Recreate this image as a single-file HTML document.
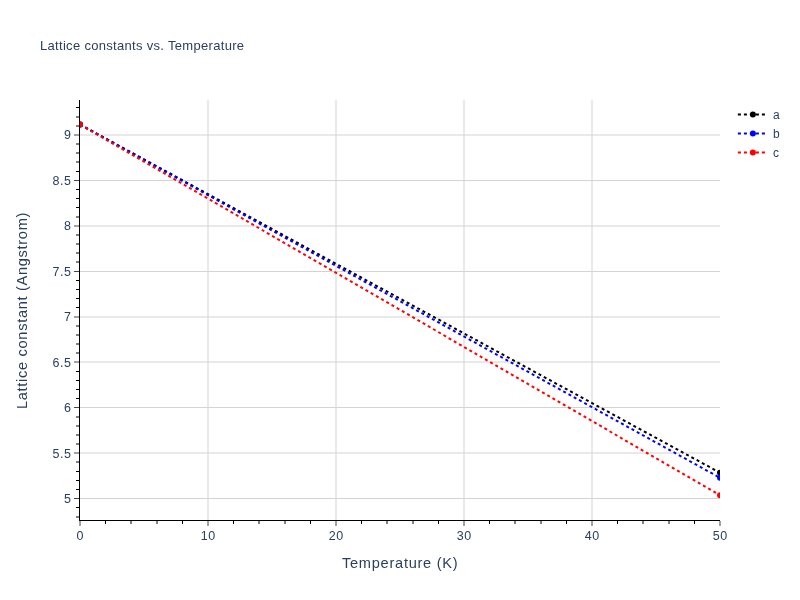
<!DOCTYPE html><html><head><meta charset="utf-8"><style>html,body{margin:0;padding:0;background:#fff;width:800px;height:600px;overflow:hidden}svg{display:block;will-change:transform}text{font-family:"Liberation Sans",sans-serif;fill:#2a3f5f}</style></head><body><svg width="800" height="600" viewBox="0 0 800 600"><rect x="0" y="0" width="800" height="600" fill="#fff"/><defs><clipPath id="pa"><rect x="80" y="100" width="640" height="420"/></clipPath></defs><path d="M208,100V520M336,100V520M464,100V520M592,100V520M80,498.5H720M80,453H720M80,407.5H720M80,362H720M80,317H720M80,271.5H720M80,226H720M80,180.5H720M80,135H720" stroke="#d3d3d3" stroke-width="1" fill="none"/><g clip-path="url(#pa)"><path d="M80,124.50L720,472.70" stroke="#000" stroke-width="2" stroke-dasharray="3,3" fill="none"/><circle cx="80" cy="124.50" r="3" fill="#000"/><circle cx="720" cy="472.70" r="3" fill="#000"/><path d="M80,124.50L720,477.80" stroke="#00f" stroke-width="2" stroke-dasharray="3,3" fill="none"/><circle cx="80" cy="124.50" r="3" fill="#00f"/><circle cx="720" cy="477.80" r="3" fill="#00f"/><path d="M80,124.50L720,495.20" stroke="#f00" stroke-width="2" stroke-dasharray="3,3" fill="none"/><circle cx="80" cy="124.50" r="3" fill="#f00"/><circle cx="720" cy="495.20" r="3" fill="#f00"/></g><path d="M76,517H79M76,507.5H79M76,489.5H79M76,480.5H79M76,471.5H79M76,462H79M76,444H79M76,435H79M76,426H79M76,417H79M76,398.5H79M76,389.5H79M76,380.5H79M76,371.5H79M76,353H79M76,344H79M76,335H79M76,326H79M76,307.5H79M76,298.5H79M76,289.5H79M76,280.5H79M76,262H79M76,253H79M76,244H79M76,235H79M76,217H79M76,207.5H79M76,198.5H79M76,189.5H79M76,171.5H79M76,162H79M76,153H79M76,144H79M76,126H79M76,117H79M76,107.5H79M105.5,521V524M131,521V524M157,521V524M182.5,521V524M233.5,521V524M259,521V524M285,521V524M310.5,521V524M361.5,521V524M387,521V524M413,521V524M438.5,521V524M489.5,521V524M515,521V524M541,521V524M566.5,521V524M617.5,521V524M643,521V524M669,521V524M694.5,521V524" stroke="#000" stroke-width="1" fill="none"/><path d="M74,498.5H79M74,453H79M74,407.5H79M74,362H79M74,317H79M74,271.5H79M74,226H79M74,180.5H79M74,135H79M80,521V526M208,521V526M336,521V526M464,521V526M592,521V526M720,521V526" stroke="#444" stroke-width="1" fill="none"/><path d="M79.5,100V521M79,520.5H720" stroke="#000" stroke-width="1" fill="none"/><text x="71.60" y="503.07" text-anchor="end" font-size="12.5" letter-spacing="0.6">5</text><text x="71.60" y="457.62" text-anchor="end" font-size="12.5" letter-spacing="0.6">5.5</text><text x="71.60" y="412.17" text-anchor="end" font-size="12.5" letter-spacing="0.6">6</text><text x="71.60" y="366.72" text-anchor="end" font-size="12.5" letter-spacing="0.6">6.5</text><text x="71.60" y="321.27" text-anchor="end" font-size="12.5" letter-spacing="0.6">7</text><text x="71.60" y="275.82" text-anchor="end" font-size="12.5" letter-spacing="0.6">7.5</text><text x="71.60" y="230.37" text-anchor="end" font-size="12.5" letter-spacing="0.6">8</text><text x="71.60" y="184.92" text-anchor="end" font-size="12.5" letter-spacing="0.6">8.5</text><text x="71.60" y="139.47" text-anchor="end" font-size="12.5" letter-spacing="0.6">9</text><text x="80.30" y="540" text-anchor="middle" font-size="12.5" letter-spacing="0.6">0</text><text x="208.30" y="540" text-anchor="middle" font-size="12.5" letter-spacing="0.6">10</text><text x="336.30" y="540" text-anchor="middle" font-size="12.5" letter-spacing="0.6">20</text><text x="464.30" y="540" text-anchor="middle" font-size="12.5" letter-spacing="0.6">30</text><text x="592.30" y="540" text-anchor="middle" font-size="12.5" letter-spacing="0.6">40</text><text x="720.30" y="540" text-anchor="middle" font-size="12.5" letter-spacing="0.6">50</text><text x="40" y="50" font-size="13" letter-spacing="0.31">Lattice constants vs. Temperature</text><text x="342" y="568" font-size="14.6" letter-spacing="0.73">Temperature (K)</text><text transform="translate(27,409) rotate(-90)" x="0" y="0" font-size="14.6" letter-spacing="0.69">Lattice constant (Angstrom)</text><path d="M737.9,114.40H767.9" stroke="#000" stroke-width="2" stroke-dasharray="3,3"/><circle cx="752.9" cy="114.40" r="3" fill="#000"/><text x="772.9" y="118.60" font-size="12">a</text><path d="M737.9,133.45H767.9" stroke="#00f" stroke-width="2" stroke-dasharray="3,3"/><circle cx="752.9" cy="133.45" r="3" fill="#00f"/><text x="772.9" y="137.65" font-size="12">b</text><path d="M737.9,152.50H767.9" stroke="#f00" stroke-width="2" stroke-dasharray="3,3"/><circle cx="752.9" cy="152.50" r="3" fill="#f00"/><text x="772.9" y="156.70" font-size="12">c</text></svg></body></html>
